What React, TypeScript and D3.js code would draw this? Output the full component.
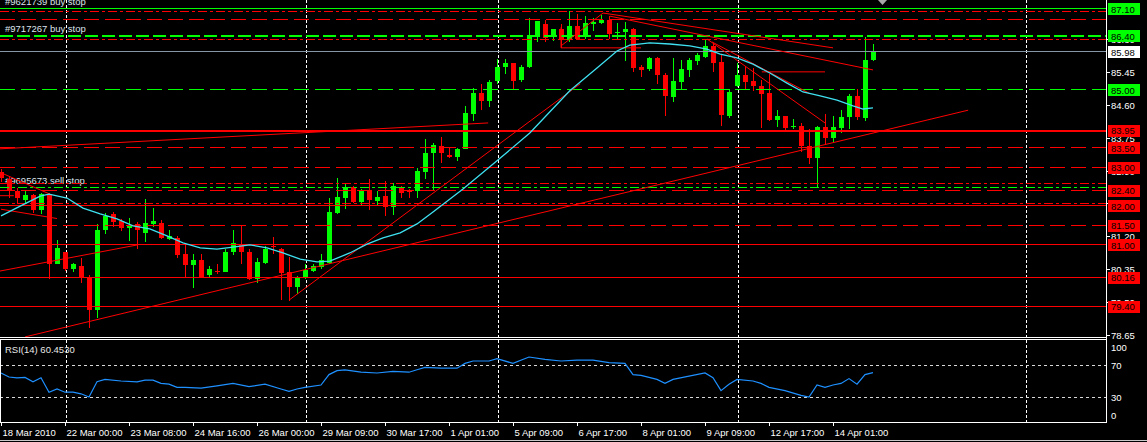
import React from 'react';
import * as d3 from 'd3';

const W = 1147;
const H = 442;
const axisX = 1106;
const mainBottom = 337;
const rsiTop = 340;
const rsiBottom = 422;
const font = 'Liberation Sans, Arial, sans-serif';

// H4 bars, 18 Mar 2010 .. 14 Apr 2010
const opens = [
  82.85, 82.68, 82.37, 82.14, 82.27, 81.88, 82.29, 80.48, 80.8, 80.36,
  80.43, 80.12, 79.3, 81.36, 81.78, 81.6, 81.42, 81.52, 81.29, 81.52,
  81.55, 81.13, 81.16, 80.74, 80.46, 80.59, 80.2, 80.3, 80.28, 80.8,
  81.0, 80.8, 80.1, 80.51, 80.95, 80.87, 80.28, 79.9, 80.15, 80.3,
  80.41, 80.51, 81.8, 82.19, 82.47, 82.09, 82.37, 82.11, 82.24, 81.96,
  82.45, 82.37, 82.37, 82.86, 83.36, 83.53, 83.3, 83.25, 83.46, 84.36,
  84.9, 84.7, 85.21, 85.58, 85.68, 85.24, 85.58, 86.35, 86.69, 86.35,
  86.56, 86.27, 86.63, 86.35, 86.69, 86.71, 86.79, 86.46, 86.48, 86.56,
  85.58, 85.53, 85.81, 85.37, 84.8, 85.19, 85.5, 85.73, 85.84, 86.12,
  85.71, 84.31, 85.08, 85.37, 85.21, 85.08, 84.9, 84.21, 84.31, 84.03,
  84.05, 83.53, 83.22, 84.03, 83.74, 84.0, 84.28, 84.83, 84.26, 85.76,
];
const highs = [
  82.95, 82.76, 82.45, 82.37, 82.3, 82.32, 82.32, 81.11, 80.8, 80.51,
  80.64, 80.2, 81.52, 81.8, 81.83, 81.65, 81.68, 81.57, 82.16, 81.93,
  81.62, 81.36, 81.21, 80.98, 80.74, 80.74, 80.43, 80.48, 80.87, 81.36,
  81.47, 80.87, 80.64, 80.95, 81.18, 80.9, 80.67, 80.18, 80.48, 80.48,
  80.74, 82.19, 82.71, 82.55, 82.5, 82.42, 82.68, 82.37, 82.63, 82.58,
  82.5, 82.42, 82.97, 83.71, 83.61, 83.77, 83.48, 83.48, 84.57, 85.03,
  85.14, 85.24, 85.78, 85.78, 85.68, 85.63, 86.84, 86.76, 86.79, 86.56,
  86.69, 87.02, 86.95, 86.89, 86.84, 86.92, 86.89, 86.71, 86.74, 86.58,
  85.63, 85.84, 85.84, 85.42, 85.81, 85.76, 85.81, 85.94, 86.3, 86.2,
  85.91, 85.01, 85.68, 85.6, 85.55, 85.24, 85.4, 84.46, 84.31, 84.23,
  84.13, 83.97, 84.05, 84.36, 84.31, 84.46, 84.88, 85.01, 86.35, 86.17,
];
const lows = [
  82.6, 82.19, 82.04, 82.04, 81.8, 81.78, 80.1, 80.48, 80.3, 80.28,
  79.99, 78.83, 79.09, 81.26, 81.44, 81.34, 81.08, 80.87, 81.05, 81.44,
  81.13, 81.1, 80.64, 80.15, 79.87, 80.12, 80.15, 80.23, 80.28, 80.72,
  80.48, 80.07, 79.99, 80.48, 80.74, 79.56, 79.53, 79.71, 80.1, 80.28,
  80.36, 80.48, 81.78, 81.91, 82.06, 81.98, 81.88, 81.98, 81.73, 81.75,
  82.19, 82.19, 82.19, 82.68, 82.37, 83.1, 83.22, 83.15, 83.46, 84.18,
  84.46, 84.54, 85.14, 85.4, 84.98, 85.19, 85.55, 86.22, 86.22, 86.25,
  86.07, 86.22, 86.27, 86.3, 86.51, 86.69, 86.3, 86.3, 85.73, 85.45,
  85.32, 85.48, 85.14, 84.31, 84.67, 84.98, 85.32, 85.63, 85.81, 85.45,
  84.05, 84.26, 85.06, 85.01, 84.95, 84.0, 84.18, 84.03, 83.95, 83.97,
  83.38, 83.07, 82.45, 83.59, 83.64, 83.87, 83.97, 84.21, 84.18, 85.73,
];
const closes = [
  82.7, 82.37, 82.19, 82.27, 81.88, 82.29, 80.48, 80.9, 80.36, 80.48,
  80.12, 79.3, 81.36, 81.73, 81.57, 81.42, 81.5, 81.36, 81.55, 81.6,
  81.16, 81.21, 80.72, 80.46, 80.59, 80.15, 80.36, 80.28, 80.8, 81.03,
  80.8, 80.1, 80.54, 80.87, 80.92, 80.25, 79.9, 80.12, 80.33, 80.43,
  80.59, 81.83, 82.22, 82.47, 82.09, 82.37, 82.14, 82.22, 81.96, 82.5,
  82.32, 82.34, 82.89, 83.36, 83.56, 83.36, 83.25, 83.46, 84.39, 84.9,
  84.7, 85.19, 85.58, 85.68, 85.21, 85.58, 86.38, 86.76, 86.33, 86.56,
  86.27, 86.63, 86.3, 86.71, 86.74, 86.79, 86.43, 86.48, 86.56, 85.55,
  85.5, 85.81, 85.37, 84.83, 85.21, 85.53, 85.76, 85.89, 86.12, 85.68,
  84.34, 84.93, 85.37, 85.19, 85.08, 84.88, 84.21, 84.31, 84.0, 84.05,
  83.53, 83.22, 84.03, 83.74, 84.03, 84.28, 84.83, 84.28, 85.76, 85.98,
];

// moving average (cyan), read at bar positions
const maBars = [
  0, 2.4, 4.9, 6, 8.25, 10.25, 12.4, 14.5, 16.5, 18.6, 20.75, 22.75, 24.9, 27,
  29, 31.1, 33.25, 35.25, 37.4, 39.5, 41.1, 43.6, 45.75, 47.75, 49.9, 52, 54,
  57.75, 62, 66.1, 71.1, 74.5, 77, 78.6, 81.1, 83.6, 86.1, 88.25, 89.9, 92, 94,
  96.1, 98.25, 100.25, 102.4, 104.5, 106.5, 107.75, 109,
];
const maValues = [
  81.73, 81.98, 82.24, 82.29, 82.19, 81.93, 81.78, 81.65, 81.47, 81.39, 81.21,
  81.03, 80.9, 80.87, 80.92, 80.98, 80.9, 80.77, 80.61, 80.54, 80.56, 80.77,
  81.0, 81.16, 81.29, 81.52, 81.83, 82.42, 83.15, 83.87, 84.96, 85.55, 85.99,
  86.14, 86.2, 86.17, 86.12, 86.04, 85.91, 85.81, 85.65, 85.42, 85.16, 84.93,
  84.83, 84.72, 84.57, 84.49, 84.52,
];

// RSI(14)
const rsiBars = [
  0, 1, 2, 3, 4, 5, 6, 7, 8, 9, 10, 11, 12, 13, 15, 17, 18, 19, 20, 21, 22, 23,
  25, 27, 29, 31, 33, 35, 36, 37, 38, 40, 41, 42, 43, 45, 47, 49, 51, 52, 53,
  55, 57, 58, 59, 61, 62, 64, 66, 68, 70, 72, 74, 76, 78, 79, 80, 82, 83, 84,
  86, 88, 89, 90, 91, 92, 94, 95, 96, 98, 100, 101, 102, 103, 104, 105, 106,
  107, 108, 109,
];
const rsiValues = [
  60, 55, 54, 54.5, 49, 54, 36, 40, 36, 36, 34, 30, 49, 52, 50, 49, 51, 51, 47,
  46, 42, 42, 41, 44, 47, 43, 46, 40, 37, 40, 42, 45, 58, 63, 64, 61, 60, 62,
  61, 64, 67, 66, 66, 72, 75, 75, 78, 72, 80, 77, 75, 76, 76, 73, 72, 58, 57,
  52, 47, 52, 56, 60, 54, 38, 46, 52, 50, 47, 42, 38, 32, 30, 45, 42, 45, 47,
  53, 46, 58, 60.45,
];

const timeLabels = [
  '18 Mar 2010', '22 Mar 00:00', '23 Mar 08:00', '24 Mar 16:00', '26 Mar 00:00',
  '29 Mar 09:00', '30 Mar 17:00', '1 Apr 01:00', '5 Apr 09:00', '6 Apr 17:00',
  '8 Apr 01:00', '9 Apr 09:00', '12 Apr 17:00', '14 Apr 01:00',
];
const timeBars = [0, 8, 16, 24, 32, 40, 48, 56, 64, 72, 80, 88, 96, 104];
const separatorBars = [8.1, 38.1, 62.1, 92.1, 128.1];

const priceTicks = [78.65, 79.5, 80.35, 81.2, 82.05, 82.9, 83.75, 84.6, 85.45, 86.3];

// horizontal level lines (orders, stops, supports)
const levelPrices = [
  87.1, 87.02, 86.81, 86.4, 86.3, 85.0, 83.95, 83.5, 83.0, 82.58, 82.48, 82.4,
  82.07, 82.0, 81.5, 81.0, 80.16, 79.4,
];
const levelColors = [
  '#00ff00', '#ff0000', '#ff0000', '#00ff00', '#ff0000', '#00ff00', '#ff0000',
  '#ff0000', '#ff0000', '#ff0000', '#00ff00', '#ff0000', '#ff0000', '#ff0000',
  '#ff0000', '#ff0000', '#ff0000', '#ff0000',
];
const levelStyles = [
  'solid', 'dashdot', 'dash', 'bold', 'dashdot', 'dash', 'thick', 'dash', 'dash',
  'dashdot', 'dashdot', 'dash', 'dashdot', 'solid', 'dash', 'solid', 'solid', 'solid',
];

const labelPrices = [
  87.1, 86.4, 85.98, 85.0, 83.95, 83.5, 83.0, 82.4, 82.0, 81.5, 81.0, 80.16, 79.4,
];
const labelColors = [
  '#00ff00', '#00ff00', '#ffffff', '#00ff00', '#ff0000', '#ff0000', '#ff0000',
  '#ff0000', '#ff0000', '#ff0000', '#ff0000', '#ff0000', '#ff0000',
];

const orderTexts = ['#9621739 buy stop', '#9717267 buy stop', '#9695673 sell stop'];
const orderPrices = [87.1, 86.4, 82.48];

// trend lines: [bar, price] -> [bar, price]
const trendStart: [number, number][] = [
  [3, 78.6], [-0.2, 80.3], [-0.2, 83.46], [36, 79.55], [70, 86.12],
  [75.25, 86.97], [76.1, 86.89], [88.25, 86.3], [88.9, 86.22], [95.1, 85.45],
  [-0.2, 82.86], [-0.2, 82.25], [0, 81.9], [70, 86.07], [70, 86.6],
];
const trendEnd: [number, number][] = [
  [120.9, 84.46], [17.1, 80.98], [60.9, 84.13], [72.4, 85.14], [75.25, 86.97],
  [104, 86.07], [109, 85.5], [103, 84.13], [101, 84.9], [103, 85.45],
  [6, 82.3], [1.6, 82.25], [7, 81.66], [80, 86.07], [70, 86.07],
];

function dashFor(style: string) {
  if (style === 'dash') return '15,6';
  if (style === 'dashdot') return '9,3,3,3';
  if (style === 'bold') return '13,4';
  return undefined;
}

export default function App() {
  const x = d3.scaleLinear().domain([0, 1]).range([1, 9]);
  const y = d3.scaleLinear().domain([78.65, 87.1]).range([335, 8]);
  const yr = d3.scaleLinear().domain([0, 100]).range([421, 341]);

  const maPath = d3
    .line<number>()
    .x((_, i) => x(maBars[i]))
    .y((d) => y(d))(maValues);
  const rsiPath = d3
    .line<number>()
    .x((_, i) => x(rsiBars[i]))
    .y((d) => yr(d))(rsiValues);

  const textProps = { fontFamily: font, fontSize: 9.5 };

  return (
    <svg
      width={W}
      height={H}
      style={{ position: 'absolute', left: 0, top: 0, display: 'block', background: '#000' }}
    >
      <rect x={0} y={0} width={W} height={H} fill="#000" />
      <defs>
        <clipPath id="mainClip">
          <rect x={0} y={0} width={axisX} height={mainBottom} />
        </clipPath>
        <clipPath id="rsiClip">
          <rect x={0} y={rsiTop} width={axisX} height={rsiBottom - rsiTop} />
        </clipPath>
      </defs>

      {/* period separators */}
      {separatorBars.map((b) => (
        <g key={b}>
          <line x1={Math.round(x(b)) + 0.5} x2={Math.round(x(b)) + 0.5} y1={0} y2={mainBottom}
            stroke="#fff" strokeDasharray="3,2" />
          <line x1={Math.round(x(b)) + 0.5} x2={Math.round(x(b)) + 0.5} y1={rsiTop} y2={rsiBottom}
            stroke="#fff" strokeDasharray="3,2" />
        </g>
      ))}

      <g clipPath="url(#mainClip)">
        {/* order texts */}
        {orderTexts.map((t, i) => (
          <text key={t} x={5} y={y(orderPrices[i]) - 3} fill="#dde4ee" {...textProps}>
            {t}
          </text>
        ))}

        {/* candles */}
        {closes.map((c, i) => {
          const o = opens[i];
          const cx = Math.round(x(i));
          const col = c >= o ? '#00ff00' : '#ff0000';
          const top = y(Math.max(o, c));
          const bot = y(Math.min(o, c));
          return (
            <g key={i} shapeRendering="crispEdges">
              <line x1={cx + 0.5} x2={cx + 0.5} y1={y(highs[i])} y2={y(lows[i])} stroke={col} />
              <rect x={cx - 2} y={top} width={5} height={Math.max(1, bot - top)} fill={col} />
            </g>
          );
        })}

        {/* level lines */}
        {levelPrices.map((p, i) => {
          const st = levelStyles[i];
          const yy = Math.round(y(p)) + 0.5;
          return (
            <line key={'lv' + i} x1={0} x2={axisX} y1={yy} y2={yy}
              stroke={levelColors[i]}
              strokeWidth={st === 'thick' || st === 'bold' ? 2 : 1}
              strokeDasharray={dashFor(st)} shapeRendering="crispEdges" />
          );
        })}
        {/* bid line */}
        <line x1={0} x2={axisX} y1={Math.round(y(85.98)) + 0.5} y2={Math.round(y(85.98)) + 0.5}
          stroke="#8796a6" shapeRendering="crispEdges" />

        {/* trend lines */}
        {trendStart.map((s, i) => (
          <line key={'tr' + i} x1={x(s[0])} y1={y(s[1])} x2={x(trendEnd[i][0])} y2={y(trendEnd[i][1])}
            stroke="#ff0000" strokeWidth={1} />
        ))}

        {/* moving average */}
        <path d={maPath || ''} fill="none" stroke="#3fe0f0" strokeWidth={1.3} />
      </g>

      {/* RSI */}
      <g clipPath="url(#rsiClip)">
        {[70, 30].map((v) => (
          <line key={v} x1={0} x2={axisX} y1={Math.round(yr(v)) + 0.5} y2={Math.round(yr(v)) + 0.5}
            stroke="#d8d8d8" strokeDasharray="3,3" shapeRendering="crispEdges" />
        ))}
        <path d={rsiPath || ''} fill="none" stroke="#1e90ff" strokeWidth={1.2} />
        <text x={5} y={353} fill="#e8e8e8" {...textProps}>RSI(14) 60.4530</text>
      </g>

      {/* frames */}
      <g stroke="#fff" fill="none" shapeRendering="crispEdges">
        <line x1={axisX + 0.5} x2={axisX + 0.5} y1={0} y2={rsiBottom} />
        <line x1={0} x2={axisX} y1={mainBottom + 0.5} y2={mainBottom + 0.5} />
        <line x1={0} x2={axisX} y1={rsiTop - 0.5} y2={rsiTop - 0.5} />
        <line x1={0} x2={axisX + 1} y1={rsiBottom + 0.5} y2={rsiBottom + 0.5} />
        <line x1={0.5} x2={0.5} y1={rsiTop} y2={rsiBottom} />
      </g>
      <line x1={0} x2={W} y1={H - 1.5} y2={H - 1.5} stroke="#c8c8c8" />
      <polygon points="878,0 887,0 882.5,5" fill="#a8a8a8" />

      {/* price axis */}
      {priceTicks.map((p) => (
        <g key={p}>
          <line x1={axisX + 1} x2={axisX + 4} y1={Math.round(y(p)) + 0.5} y2={Math.round(y(p)) + 0.5}
            stroke="#fff" shapeRendering="crispEdges" />
          <text x={axisX + 5} y={y(p) + 4} fill="#fff" {...textProps}>{p.toFixed(2)}</text>
        </g>
      ))}
      {labelPrices.map((p, i) => (
        <g key={'lb' + i}>
          <rect x={axisX + 2} y={Math.round(y(p)) - 5} width={32} height={12} fill={labelColors[i]} />
          <text x={axisX + 5} y={y(p) + 4.5} fill="#000" {...textProps}>{p.toFixed(2)}</text>
        </g>
      ))}

      {/* RSI axis */}
      {[100, 70, 30, 0].map((v) => (
        <text key={v} x={axisX + 5}
          y={v === 100 ? 351 : v === 0 ? 419 : yr(v) + 4}
          fill="#fff" {...textProps}>{v}</text>
      ))}

      {/* time axis */}
      {timeBars.map((b, i) => {
        const tx = Math.round(x(b)) + 0.5;
        return (
          <g key={'t' + i}>
            <line x1={tx} x2={tx} y1={rsiBottom} y2={rsiBottom + 4} stroke="#fff" shapeRendering="crispEdges" />
            <text x={tx + 1} y={436} fill="#fff" {...textProps}>{timeLabels[i]}</text>
          </g>
        );
      })}
    </svg>
  );
}
